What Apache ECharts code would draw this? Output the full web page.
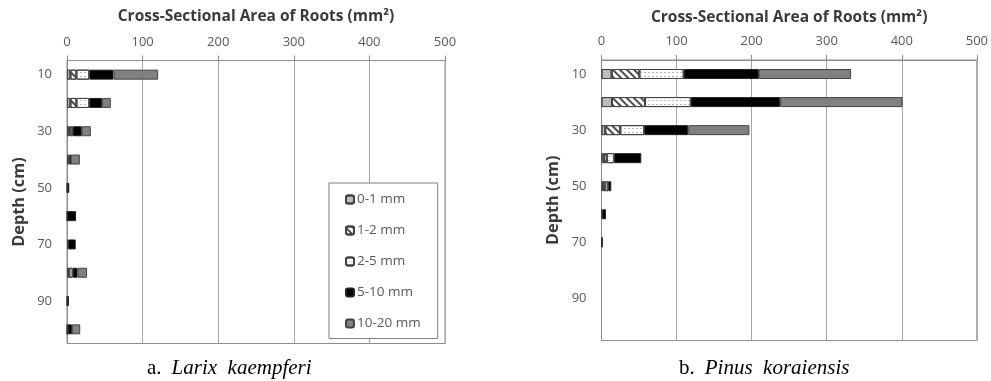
<!DOCTYPE html>
<html>
<head>
<meta charset="utf-8">
<script src="https://cdn.jsdelivr.net/npm/echarts@6/dist/echarts.min.js"></script>
<style>
html,body{margin:0;padding:0;background:#fff;}
#c{width:991px;height:381px;}
</style>
</head>
<body>
<div id="c"></div>
<script>
// ---- data ----
var depthCats = ['10','20','30','40','50','60','70','80','90','100'];
var xTicks = [0, 100, 200, 300, 400, 500];
var seriesNames = ['0-1 mm','1-2 mm','2-5 mm','5-10 mm','10-20 mm'];

// a. Larix kaempferi
var larix_0_1   = [4.5, 4.5, 3, 2, 0.5, 0.5, 1.5, 2.5, 0.5, 0.5];
var larix_1_2   = [8, 8, 1.5, 1, 0, 0, 0, 0.5, 0, 0.5];
var larix_2_5   = [17, 17, 3, 1.5, 0, 0, 0, 4.5, 0, 0];
var larix_5_10  = [32, 17, 12, 0.5, 2.5, 11.5, 10, 6.5, 2, 5.5];
var larix_10_20 = [59, 11.5, 12, 12, 0, 0, 0, 12.5, 0, 11];

// b. Pinus koraiensis
var pinus_0_1   = [13.5, 14, 5, 3, 2, 1, 0.5, 0, 0, 0];
var pinus_1_2   = [37, 44, 20, 4, 3, 0, 0, 0, 0, 0];
var pinus_2_5   = [59, 61, 32, 10, 4, 0, 0, 0, 0, 0];
var pinus_5_10  = [100, 119, 58.5, 36, 4, 5, 0.5, 0, 0, 0];
var pinus_10_20 = [123, 163, 81.5, 0, 0, 0, 0, 0, 0, 0];

var axisTitle = 'Cross-Sectional Area of Roots (mm\u00B2)';
var depthTitle = 'Depth (cm)';

// ---- styles ----
var styles = [
  {color:'#c4c4c4', borderColor:'#444', borderWidth:1,
   decal:{symbol:'rect', symbolSize:1, dashArrayX:[[1,1]], dashArrayY:[1,1], color:'rgba(120,120,120,0.35)'}},
  {color:'#ffffff', borderColor:'#444', borderWidth:1,
   decal:{symbol:'rect', symbolSize:1, dashArrayX:[1,0], dashArrayY:[1.6,3], rotation:Math.PI/4, color:'#4a4a4a'}},
  {color:'#ffffff', borderColor:'#444', borderWidth:1,
   decal:{symbol:'rect', symbolSize:1, dashArrayX:[[2,2]], dashArrayY:[1,3], color:'#b8b8b8'}},
  {color:'#000000', borderColor:'#222', borderWidth:1},
  {color:'#808080', borderColor:'#444', borderWidth:1}
];

function clean(arr){ return arr.map(function(v){ return v === 0 ? '-' : v; }); }

var larixData = [larix_0_1, larix_1_2, larix_2_5, larix_5_10, larix_10_20];
var pinusData = [pinus_0_1, pinus_1_2, pinus_2_5, pinus_5_10, pinus_10_20];

var series = [];
[larixData, pinusData].forEach(function(group, gi){
  group.forEach(function(arr, si){
    series.push({
      name: seriesNames[si],
      type: 'bar',
      stack: 'g' + gi,
      xAxisIndex: gi,
      yAxisIndex: gi,
      barWidth: 10,
      data: clean(arr),
      itemStyle: styles[si],
      emphasis: {disabled: true},
      animation: false
    });
  });
});

var FONT = 'Open Sans';
function xAxisCfg(gi, gap){
  return {
    gridIndex: gi, type:'value', position:'top', min:xTicks[0], max:xTicks[xTicks.length-1], interval:100,
    name: axisTitle, nameLocation:'middle', nameGap: gap,
    nameTextStyle:{fontFamily:FONT, fontWeight:'bold', fontSize:15.5, color:'#3a3a3a'},
    axisLine:{show:true, lineStyle:{color:'#8c8c8c', width:1}},
    axisTick:{show:true, length:5, lineStyle:{color:'#8c8c8c'}},
    axisLabel:{fontFamily:FONT, fontSize:13, color:'#595959', margin:12},
    splitLine:{show:true, lineStyle:{color:'#a6a6a6', width:1}}
  };
}
function yAxisCfg(gi, gap){
  return {
    gridIndex: gi, type:'category', inverse:true, data: depthCats,
    name: depthTitle, nameLocation:'middle', nameGap: gap, nameRotate:90,
    nameTextStyle:{fontFamily:FONT, fontWeight:'bold', fontSize:16.3, color:'#3a3a3a'},
    axisLine:{show:true, lineStyle:{color:'#8c8c8c', width:1}},
    axisTick:{show:false},
    axisLabel:{interval:1, fontFamily:FONT, fontSize:13, color:'#595959', margin:15},
    splitLine:{show:false}
  };
}

var capRich = {
  n:{fontFamily:'Liberation Serif', fontWeight:'normal', fontSize:21, color:'#000'},
  i:{fontFamily:'Liberation Serif', fontWeight:'normal', fontStyle:'italic', fontSize:21, color:'#000'}
};

var chart = echarts.init(document.getElementById('c'), null, {renderer:'canvas'});
chart.setOption({
  animation:false,
  backgroundColor:'#ffffff',
  title:[
    {left:142, top:353, text:'{n|a.}  {i|Larix  kaempferi}', textStyle:{fontWeight:'normal', rich:capRich}},
    {left:674, top:353, text:'{n|b.}  {i|Pinus  koraiensis}', textStyle:{fontWeight:'normal', rich:capRich}}
  ],
  grid:[
    {left:67, width:378, top:60.5, height:283, show:true, borderColor:'#8c8c8c', borderWidth:1, containLabel:false},
    {left:601.5, width:377, top:60, height:280.5, show:true, borderColor:'#8c8c8c', borderWidth:1, containLabel:false}
  ],
  xAxis:[xAxisCfg(0, 36), xAxisCfg(1, 34)],
  yAxis:[yAxisCfg(0, 40), yAxisCfg(1, 40)],
  legend:{
    show:true, orient:'vertical', left:329, top:183,
    data: seriesNames,
    padding:[9.5, 17, 8, 16],
    itemWidth:8, itemHeight:8, itemGap:17,
    borderColor:'#7f7f7f', borderWidth:1, backgroundColor:'#fff',
    textStyle:{fontFamily:FONT, fontSize:13.5, color:'#595959', padding:[0,0,0,-2]},
    selectedMode:false
  },
  series: series
});
</script>
</body>
</html>
